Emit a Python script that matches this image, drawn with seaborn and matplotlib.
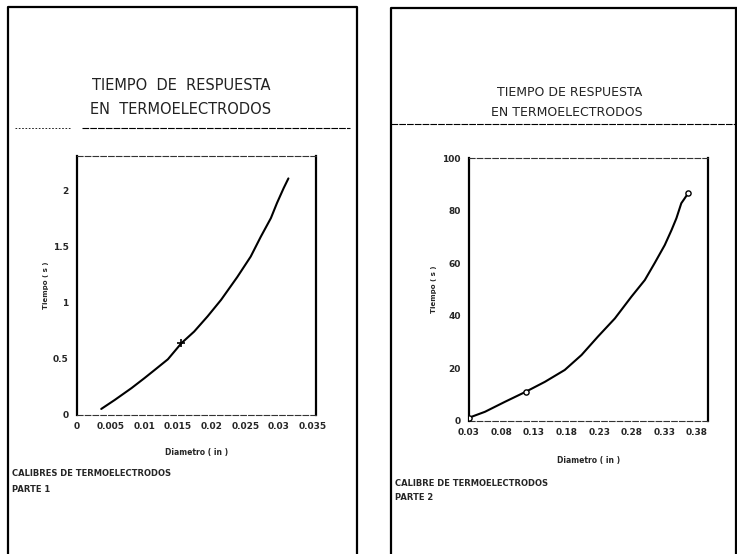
import numpy as np
import matplotlib
matplotlib.use("Agg")
import matplotlib.pyplot as plt
import seaborn as sns
import pandas as pd
from matplotlib.lines import Line2D

# Parte 1: diametros pequenos
d1 = [0.0036, 0.0056, 0.0081, 0.0100, 0.0115, 0.0135, 0.0155, 0.0174, 0.0194,
      0.0214, 0.0238, 0.0258, 0.0273, 0.0288, 0.0297, 0.0307, 0.0314]
t1 = [0.054, 0.134, 0.24, 0.328, 0.40, 0.497, 0.64, 0.744, 0.88,
      1.027, 1.23, 1.413, 1.59, 1.756, 1.89, 2.024, 2.11]
d1_pts = [0.0155]
t1_pts = [0.64]
xt1 = [0, 0.005, 0.01, 0.015, 0.02, 0.025, 0.03, 0.035]
xt1_lab = ["0", "0.005", "0.01", "0.015", "0.02", "0.025", "0.03", "0.035"]
yt1 = [0, 0.5, 1, 1.5, 2]
yt1_lab = ["0", "0.5", "1", "1.5", "2"]

# Parte 2: diametros grandes
d2 = [0.030, 0.0545, 0.0852, 0.117, 0.1466, 0.177, 0.2028, 0.228, 0.254,
      0.2795, 0.300, 0.315, 0.3306, 0.341, 0.3485, 0.356, 0.3613, 0.367]
t2 = [1.25, 3.5, 7.3, 11.1, 14.9, 19.4, 25.1, 32.1, 39.0,
      47.3, 53.6, 60.0, 66.9, 72.6, 77.1, 82.8, 84.7, 86.8]
d2_pts = [0.030, 0.117, 0.367]
t2_pts = [1.25, 11.1, 86.8]
xt2 = [0.03, 0.08, 0.13, 0.18, 0.23, 0.28, 0.33, 0.38]
xt2_lab = ["0.03", "0.08", "0.13", "0.18", "0.23", "0.28", "0.33", "0.38"]
yt2 = [0, 20, 40, 60, 80, 100]
yt2_lab = ["0", "20", "40", "60", "80", "100"]

sns.set_style("white")
plt.rcParams['font.family'] = ['DejaVu Sans']

W, H = 737, 554
fig = plt.figure(figsize=(W / 100, H / 100), dpi=100)
fig.patch.set_facecolor("white")


def px_rect(l, t, r, b):
    return [l / W, 1 - b / H, (r - l) / W, (b - t) / H]


def fline(xs, ys, **kw):
    fig.add_artist(Line2D([x / W for x in xs], [1 - y / H for y in ys],
                          transform=fig.transFigure, color="black", **kw))


# marcos de las dos hojas
fline([8, 8, 357, 357], [554, 7, 7, 554], lw=1.6)
fline([391, 391, 737], [554, 8, 8], lw=1.6)
fline([736, 736], [8, 554], lw=1.6)
fline([15, 70], [128, 128], lw=0.6, ls=(0, (2, 2)))
fline([82, 350], [128, 128], lw=0.8, ls=(0, (6, 1)))
fline([391, 737], [124, 124], lw=0.8, ls=(0, (6, 1)))

# titulos
fig.text(181 / W, 1 - 85 / H, "TIEMPO  DE  RESPUESTA", ha="center", va="center",
         fontsize=10.5, color="#222222")
fig.text(181 / W, 1 - 110 / H, "EN  TERMOELECTRODOS", ha="center", va="center",
         fontsize=10.5, color="#222222")
fig.text(570 / W, 1 - 93 / H, "TIEMPO DE RESPUESTA", ha="center", va="center",
         fontsize=9, color="#222222")
fig.text(567 / W, 1 - 113 / H, "EN TERMOELECTRODOS", ha="center", va="center",
         fontsize=9, color="#222222")

# pies
fig.text(12 / W, 1 - 474 / H, "CALIBRES DE TERMOELECTRODOS", ha="left", va="center",
         fontsize=6, fontweight="bold")
fig.text(12 / W, 1 - 490 / H, "PARTE 1", ha="left", va="center",
         fontsize=6, fontweight="bold")
fig.text(395 / W, 1 - 483 / H, "CALIBRE DE TERMOELECTRODOS", ha="left", va="center",
         fontsize=6, fontweight="bold")
fig.text(395 / W, 1 - 498 / H, "PARTE 2", ha="left", va="center",
         fontsize=6, fontweight="bold")


def style_axes(ax, xt, xl, yt, yl):
    ax.set_xticks(xt)
    ax.set_xticklabels(xl)
    ax.set_yticks(yt)
    ax.set_yticklabels(yl)
    ax.tick_params(length=0, labelsize=6.5)
    ax.tick_params(axis="x", pad=5)
    ax.tick_params(axis="y", pad=6)
    for lab in ax.get_xticklabels() + ax.get_yticklabels():
        lab.set_fontweight("bold")
    for s in ["left", "right"]:
        ax.spines[s].set_visible(True)
        ax.spines[s].set_linewidth(1.6)
        ax.spines[s].set_color("black")
    for s in ["top", "bottom"]:
        ax.spines[s].set_visible(True)
        ax.spines[s].set_linewidth(0.8)
        ax.spines[s].set_linestyle((0, (5, 2)))
        ax.spines[s].set_color("#333333")
    ax.set_facecolor("none")


ax1 = fig.add_axes(px_rect(77, 156, 316, 415))
df1 = pd.DataFrame({"d": d1, "t": t1})
sns.lineplot(data=df1, x="d", y="t", ax=ax1, color="black", lw=1.5,
             estimator=None, sort=False)
sns.scatterplot(x=d1_pts, y=t1_pts, ax=ax1, marker="+", s=30, color="black",
                linewidth=1.2)
ax1.set_xlim(0, 0.0355)
ax1.set_ylim(0, 2.31)
style_axes(ax1, xt1, xt1_lab, yt1, yt1_lab)
ax1.set_xlabel("Diametro ( in )", fontsize=5.5, fontweight="bold", labelpad=12)
ax1.set_ylabel("Tiempo ( s )", fontsize=5, fontweight="bold", labelpad=3)

ax2 = fig.add_axes(px_rect(469, 158, 708, 421))
df2 = pd.DataFrame({"d": d2, "t": t2})
sns.lineplot(data=df2, x="d", y="t", ax=ax2, color="black", lw=1.5,
             estimator=None, sort=False)
sns.scatterplot(x=d2_pts, y=t2_pts, ax=ax2, marker="o", s=14, facecolor="white",
                edgecolor="black", linewidth=1.0, zorder=5)
ax2.set_xlim(0.03, 0.397)
ax2.set_ylim(0, 100)
style_axes(ax2, xt2, xt2_lab, yt2, yt2_lab)
ax2.set_xlabel("Diametro ( in )", fontsize=5.5, fontweight="bold", labelpad=14)
ax2.set_ylabel("Tiempo ( s )", fontsize=5, fontweight="bold", labelpad=4)

fig.savefig("out.png", dpi=100, facecolor="white")
